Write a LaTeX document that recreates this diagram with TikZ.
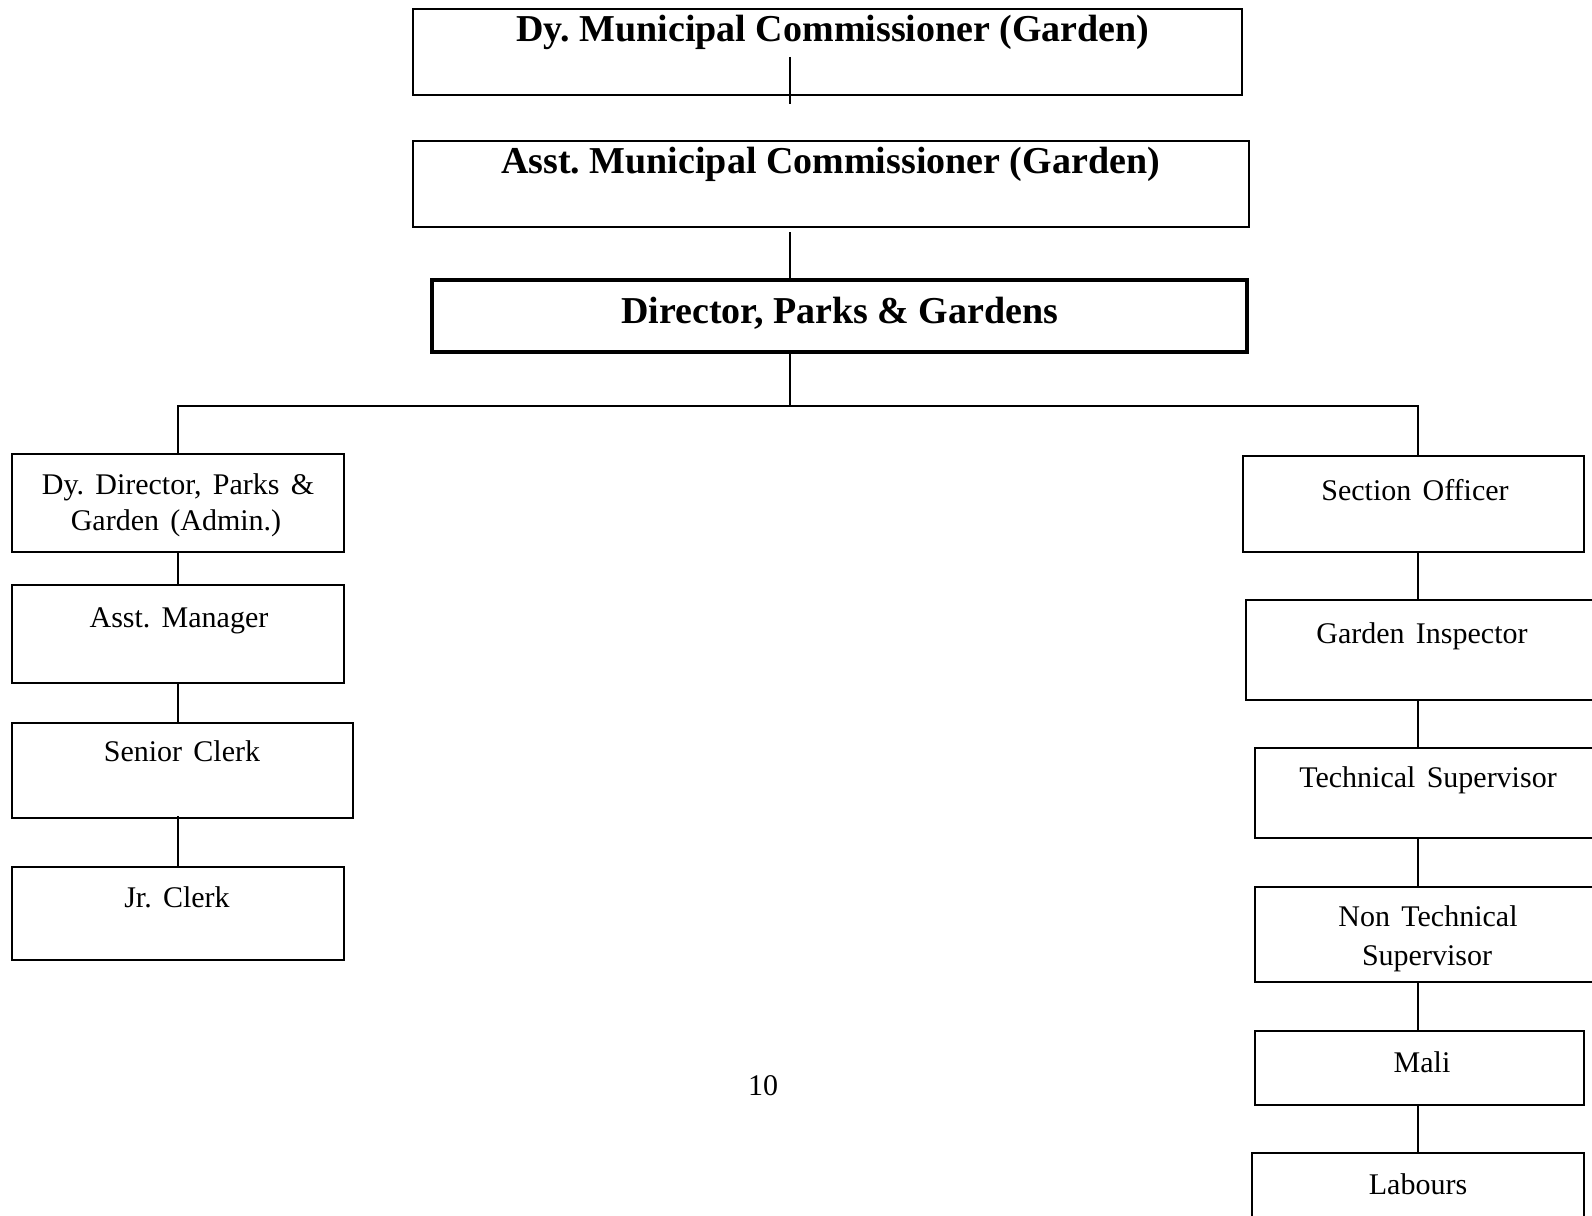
\documentclass[tikz,border=0pt]{standalone}
\usepackage{fontspec}
\setmainfont{Liberation Serif}
\newfontfamily\lblfont[WordSpace=1.5]{Liberation Serif}
\frenchspacing
\tikzset{
  box/.style={draw, line width=2pt, rectangle, inner sep=0pt, outer sep=0pt},
  thickbox/.style={box, line width=4pt},
  title/.style={anchor=base, inner sep=0pt, font=\frenchspacing\fontsize{38}{44}\selectfont\bfseries},
  lbl/.style={anchor=base, inner sep=0pt, font=\frenchspacing\lblfont\fontsize{30}{36}\selectfont},
  conn/.style={line width=2pt}
}
\begin{document}
\begin{tikzpicture}[x=1pt,y=-1pt]
\useasboundingbox (0,0) rectangle (1592,1215);
\clip (0,0) rectangle (1592,1215);
% column x positions
\coordinate (xm) at (790,0);
\coordinate (xl) at (178,0);
\coordinate (xr) at (1418,0);
% top boxes
\node[box, minimum width=829pt, minimum height=86pt] (dy) at (827.5,52) {};
\node[title] (tdy) at (833,42) {Dy. Municipal Commissioner (Garden)};
\node[box, minimum width=836pt, minimum height=85.7pt] (amc) at (831,183.8) {};
\node[title] (tamc) at (830.5,173) {Asst. Municipal Commissioner (Garden)};
\node[thickbox, minimum width=815.3pt, minimum height=71.7pt] (dir) at (839.15,315.85) {};
\node[title] (tdir) at (839.7,323) {Director, Parks \& Gardens};
% left column
\node[box, minimum width=332pt, minimum height=98pt] (dd) at (178,503) {};
\node[lbl] (tdd1) at (178,494) {Dy. Director, Parks \&};
\node[lbl] (tdd2) at (176,530) {Garden (Admin.)};
\node[box, minimum width=332pt, minimum height=98pt] (am) at (178,634) {};
\node[lbl] (tam) at (179,627) {Asst. Manager};
\node[box, minimum width=341pt, minimum height=95pt] (sc) at (182.5,770.5) {};
\node[lbl] (tsc) at (182,761) {Senior Clerk};
\node[box, minimum width=332pt, minimum height=93pt] (jc) at (178,913.5) {};
\node[lbl] (tjc) at (177,907) {Jr. Clerk};
% right column
\node[box, minimum width=341pt, minimum height=96pt] (so) at (1413.5,504) {};
\node[lbl] (tso) at (1415,500.7) {Section Officer};
\node[box, minimum width=354pt, minimum height=100pt] (gi) at (1423,650) {};
\node[lbl] (tgi) at (1422,643) {Garden Inspector};
\node[box, minimum width=345pt, minimum height=90pt] (ts) at (1427.5,793) {};
\node[lbl] (tts) at (1428,787.7) {Technical Supervisor};
\node[box, minimum width=345pt, minimum height=95pt] (nts) at (1427.5,934.5) {};
\node[lbl] (tnts1) at (1428,926.7) {Non Technical};
\node[lbl] (tnts2) at (1427,965) {Supervisor};
\node[box, minimum width=329pt, minimum height=74pt] (mali) at (1419.5,1068) {};
\node[lbl] (tmali) at (1422,1072) {Mali};
\node[box, minimum width=332pt, minimum height=82pt] (lab) at (1418,1194) {};
\node[lbl] (tlab) at (1418,1194) {Labours};
% page number
\node[lbl] (pg) at (763,1095) {10};
% connectors
\coordinate (c1a) at (790,57);
\coordinate (c1b) at (790,104);
\draw[conn] (c1a) -- (c1b);
\coordinate (c2a) at (790,232);
\draw[conn] (c2a) -- (dir.north -| xm);
\coordinate (busm) at (790,406);
\coordinate (busl) at (178,406);
\coordinate (busr) at (1418,406);
\draw[conn] (dir.south -| xm) -- (busm);
\draw[conn] (dd.north -| xl) -- (busl) -- (busr) -- (so.north -| xr);
\draw[conn] (dd.south -| xl) -- (am.north -| xl);
\draw[conn] (am.south -| xl) -- (sc.north -| xl);
\coordinate (c3a) at (178,816);
\draw[conn] (c3a) -- (jc.north -| xl);
\draw[conn] (so.south -| xr) -- (gi.north -| xr);
\draw[conn] (gi.south -| xr) -- (ts.north -| xr);
\draw[conn] (ts.south -| xr) -- (nts.north -| xr);
\draw[conn] (nts.south -| xr) -- (mali.north -| xr);
\draw[conn] (mali.south -| xr) -- (lab.north -| xr);
\end{tikzpicture}
\end{document}
